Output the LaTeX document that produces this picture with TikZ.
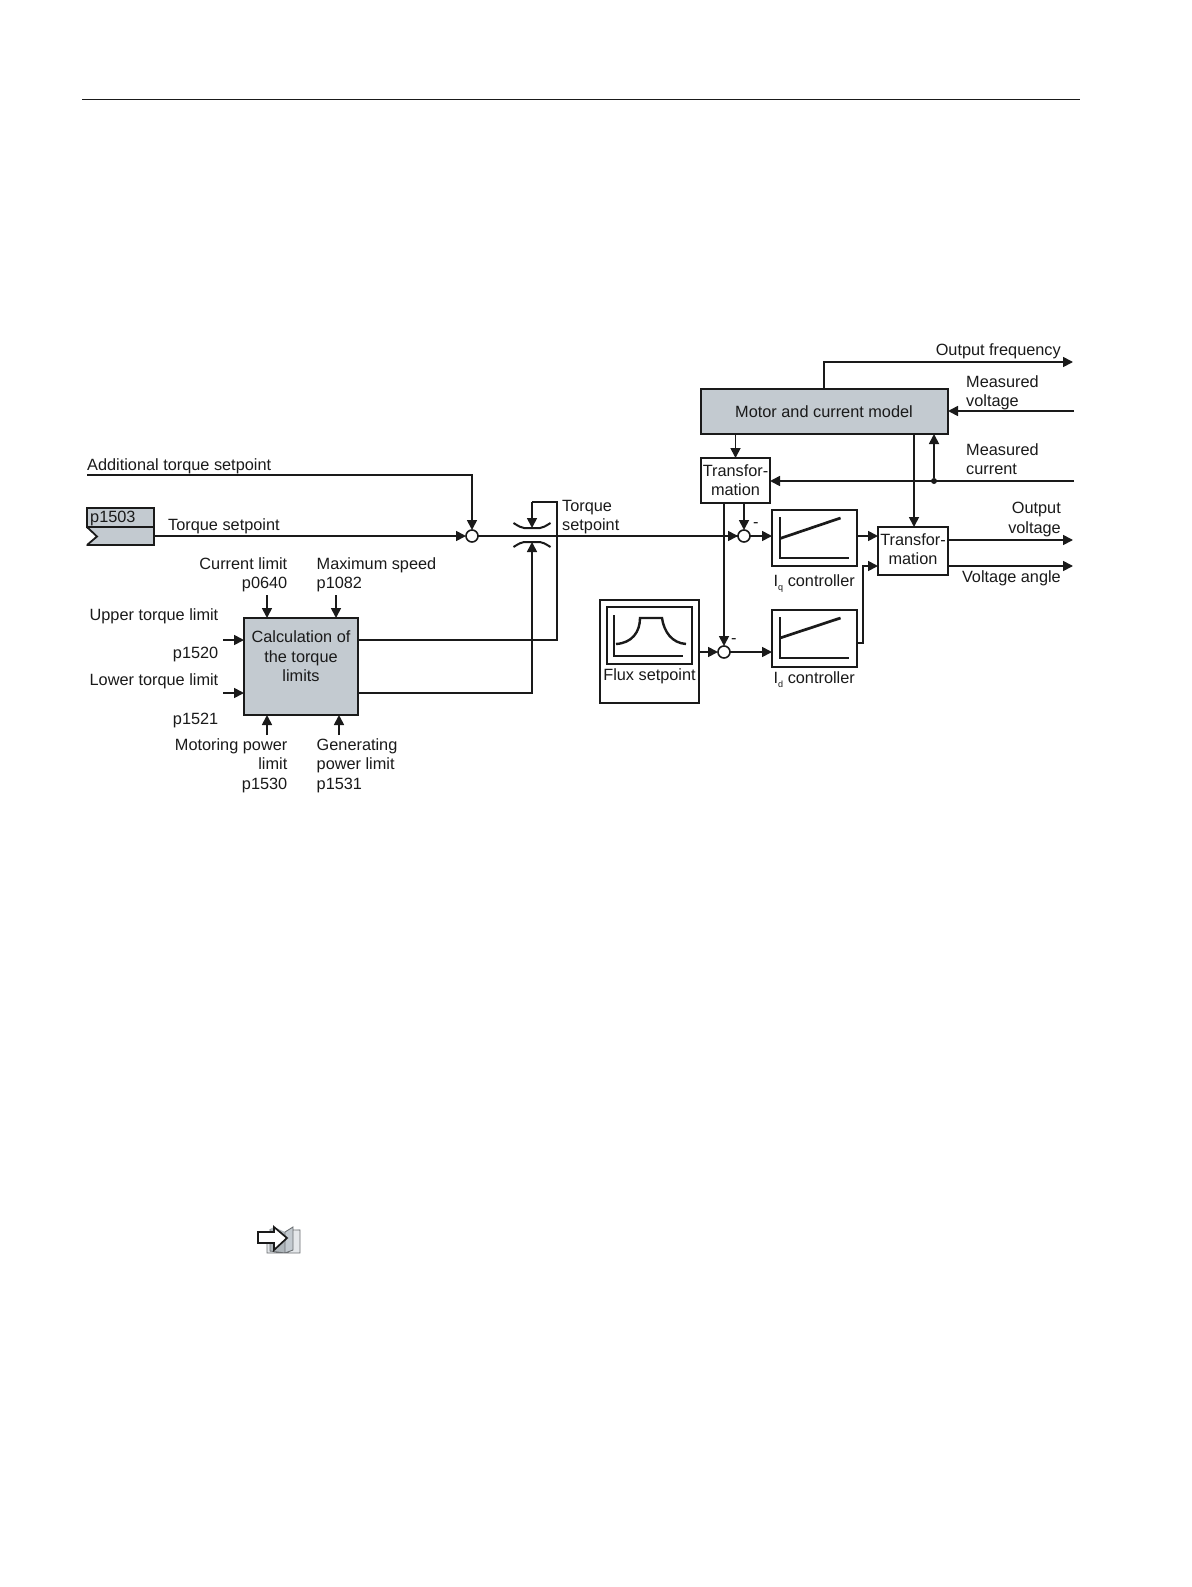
\documentclass[tikz,border=0pt]{standalone}
\usepackage{fontspec}
\setmainfont{Liberation Sans}
\usetikzlibrary{arrows.meta}
\definecolor{boxgray}{HTML}{C3CAD0}
\definecolor{ink}{HTML}{1A1A1A}
\tikzset{
  every picture/.style={x=1pt,y=-1pt},
  line/.style={draw=ink,line width=1.7pt},
  arr/.style={line,-{Triangle[length=10pt,width=10pt]}},
  block/.style={draw=ink,line width=1.8pt,inner sep=0pt,outer sep=0pt,fill=white},
  grayblock/.style={block,fill=boxgray},
  summer/.style={circle,draw=ink,line width=1.6pt,fill=white,minimum size=12pt,inner sep=0pt,outer sep=0pt},
  txt/.style={inner sep=0pt,text=ink,font=\fontsize{16.3}{19.5}\selectfont},
  tl/.style={txt,anchor=base west},
  tr/.style={txt,anchor=base east},
  tc/.style={txt,anchor=base},
  graphline/.style={draw=ink,line width=1.7pt},
  slope/.style={draw=ink,line width=2.7pt},
}
\begin{document}
\begin{tikzpicture}
\useasboundingbox[fill=white] (0,0) rectangle (1191,1587);
% header rule
\coordinate (ruleL) at (82,99.5);
\coordinate (ruleR) at (1080,99.5);
\draw[draw=ink,line width=1.2pt] (ruleL) -- (ruleR);

% main blocks
\node[grayblock,minimum width=114pt,minimum height=97pt,anchor=north west] (calc) at (244,618) {};
\node[grayblock,minimum width=247pt,minimum height=45pt,anchor=north west] (motor) at (701,389) {};
\node[block,minimum width=69pt,minimum height=45pt,anchor=north west] (tfa) at (701,458) {};
\node[block,minimum width=70pt,minimum height=48pt,anchor=north west] (tfb) at (878,527) {};
\node[block,minimum width=85pt,minimum height=56pt,anchor=north west] (iq) at (772,510) {};
\node[block,minimum width=85pt,minimum height=57pt,anchor=north west] (id) at (772,610) {};
\node[block,minimum width=99pt,minimum height=103pt,anchor=north west] (flux) at (600,600) {};
\node[block,minimum width=85pt,minimum height=57pt,anchor=north west] (fluxin) at (607,607) {};
\node[summer] (sa) at (472,536) {};
\node[summer] (sb) at (744,536) {};
\node[summer] (sc) at (724,652) {};

% p1503 block
\node[grayblock,minimum width=67pt,minimum height=37pt,anchor=north west] (pb) at (87,508) {};
\fill[white] (86,527.8) -- (97,536.5) -- (86,545.8) -- cycle;
\draw[draw=ink,line width=1.8pt] (87,527) -- (154,527);
\draw[draw=ink,line width=1.8pt] (87,527) -- (97,536.5) -- (87,545);

% block texts
\node[tl] (tp) at (90,522) {p1503};
\node[tc] (tcalc1) at (301,642) {Calculation of};
\node[tc] (tcalc2) at (301,662) {the torque};
\node[tc] (tcalc3) at (301,681) {limits};
\node[tc] (tmotor) at (824,417) {Motor and current model};
\node[tc] (tfa1) at (735.5,476) {Transfor-};
\node[tc] (tfa2) at (735.5,495) {mation};
\node[tc] (tfb1) at (913,545) {Transfor-};
\node[tc] (tfb2) at (913,564) {mation};
\node[tc] (tflux) at (649.5,680) {Flux setpoint};

% labels
\node[tl] (ladd) at (87,470) {Additional torque setpoint};
\node[tl] (lts) at (168,530) {Torque setpoint};
\node[tl] (lts1) at (562,511) {Torque};
\node[tl] (lts2) at (562,530) {setpoint};
\node[tr] (lcur1) at (287.5,569) {Current limit};
\node[tr] (lcur2) at (287.5,588) {p0640};
\node[tl] (lmax1) at (316.5,569) {Maximum speed};
\node[tl] (lmax2) at (316.5,588) {p1082};
\node[tr] (lup1) at (218.5,620) {Upper torque limit};
\node[tr] (lup2) at (218.5,658) {p1520};
\node[tr] (llo1) at (218.5,685) {Lower torque limit};
\node[tr] (llo2) at (218.5,724) {p1521};
\node[tr] (lmo1) at (287.5,750) {Motoring power};
\node[tr] (lmo2) at (287.5,769) {limit};
\node[tr] (lmo3) at (287.5,789) {p1530};
\node[tl] (lge1) at (316.5,750) {Generating};
\node[tl] (lge2) at (316.5,769) {power limit};
\node[tl] (lge3) at (316.5,789) {p1531};
\node[tr] (lof) at (1061,355) {Output frequency};
\node[tl] (lmv1) at (966,387) {Measured};
\node[tl] (lmv2) at (966,406) {voltage};
\node[tl] (lmc1) at (966,455) {Measured};
\node[tl] (lmc2) at (966,474) {current};
\node[tr] (lov1) at (1061,513.5) {Output};
\node[tr] (lov2) at (1061,533) {voltage};
\node[tr] (lva) at (1061,582) {Voltage angle};
\node[tl] (liq) at (773.5,586) {I{\fontsize{9}{9}\selectfont\raisebox{-4pt}{q}} controller};
\node[tl] (lid) at (773.5,683) {I{\fontsize{9}{9}\selectfont\raisebox{-4pt}{d}} controller};
\node[tl] (minusa) at (753,527) {-};
\node[tl] (minusb) at (731,643) {-};

% limiter symbol
\coordinate (limU) at (532,528);
\coordinate (limL) at (532,542);
\draw[draw=ink,line width=2pt] (513.5,523) .. controls (520,527) .. (524,528) -- (540,528) .. controls (544,527) .. (550.5,523);
\draw[draw=ink,line width=2pt] (513.5,547) .. controls (520,543) .. (524,542) -- (540,542) .. controls (544,543) .. (550.5,547);

% free ends
\coordinate (addS) at (87,475);
\coordinate (cTopL) at (267,595);
\coordinate (cTopR) at (336,595);
\coordinate (cLeftU) at (223,640);
\coordinate (cLeftL) at (223,693);
\coordinate (cBotL) at (267,735);
\coordinate (cBotR) at (339,735);
\coordinate (ofE) at (1073,362);
\coordinate (mvS) at (1074,411);
\coordinate (mcS) at (1074,481);
\coordinate (ovE) at (1073,540);
\coordinate (vaE) at (1073,566);
\node[circle,fill=ink,minimum size=6pt,inner sep=0pt] (jmc) at (934,481) {};

% connectors: torque path
\draw[arr] (addS) -| (sa.north);
\draw[arr] (pb.east |- sa.west) -- (sa.west);
\draw[line] (sa.east) -- (sb.west);
\draw[arr] (sa.east |- sb.west) -- (sb.west);
\draw[line] (calc.east |- 0,640) -- (557,640) -- (557,502) -- (532,502);
\draw[arr] (532,502) -- (limU);
\draw[arr] (calc.east |- 0,693) -| (limL);

% connectors: limits inputs
\draw[arr] (cTopL) -- (cTopL |- calc.north);
\draw[arr] (cTopR) -- (cTopR |- calc.north);
\draw[arr] (cLeftU) -- (cLeftU -| calc.west);
\draw[arr] (cLeftL) -- (cLeftL -| calc.west);
\draw[arr] (cBotL) -- (cBotL |- calc.south);
\draw[arr] (cBotR) -- (cBotR |- calc.south);

% connectors: motor model
\draw[arr] (motor.north -| 824,0) |- (ofE);
\draw[arr] (mvS) -- (motor.east |- mvS);
\draw[arr] (mcS) -- (tfa.east |- mcS);
\draw[arr] (jmc) -- (jmc |- motor.south);
\draw[arr] (tfa.north |- motor.south) -- (tfa.north);
\draw[arr] (914,434) -- (tfb.north -| 914,0);

% connectors: controllers
\draw[arr] (744,503) -- (sb.north);
\draw[arr] (724,503) -- (sc.north);
\draw[arr] (sb.east) -- (iq.west |- sb.east);
\draw[arr] (flux.east |- sc.west) -- (sc.west);
\draw[arr] (sc.east) -- (id.west |- sc.east);
\draw[arr] (iq.east |- 0,536) -- (tfb.west |- 0,536);
\draw[arr] (id.east |- 0,643) -- (863,643) -- (863,566) -- (tfb.west |- 0,566);
\draw[arr] (tfb.east |- ovE) -- (ovE);
\draw[arr] (tfb.east |- vaE) -- (vaE);

% characteristics
\draw[graphline] (780,517) -- (780,558) -- (849,558);
\draw[slope] (780,538.5) -- (840.5,518);
\draw[graphline] (780,617) -- (780,658) -- (849,658);
\draw[slope] (780,638) -- (840.5,618);
\draw[graphline] (614,615) -- (614,656) -- (683,656);
\draw[draw=ink,line width=2.4pt] (616,644) .. controls (632,643) and (640,632) .. (640,618) -- (662,618) .. controls (664,632) and (672,643) .. (686,644);

% reference icon
\fill[boxgray!45] (267,1253) -- (268,1231) -- (286,1233) -- (300,1229) -- (300,1253) -- (285,1253) -- cycle;
\fill[boxgray!90!black] (270,1229) -- (274,1227) -- (285,1232) -- (285,1253) -- (270,1251) -- cycle;
\fill[boxgray] (285,1232) -- (293,1227) -- (293,1250) -- (285,1253) -- cycle;
\draw[draw=boxgray!55!black,line width=.9pt] (270,1229) -- (270,1251) -- (285,1253) -- (293,1250) -- (293,1227) -- (285,1232) -- (285,1253) (293,1230) -- (300,1230) -- (300,1253) -- (267,1253) -- (267,1231);
\fill[white,draw=ink,line width=1.7pt] (258,1232) -- (274,1232) -- (274,1227) -- (287,1238) -- (274,1250) -- (274,1243) -- (258,1243) -- cycle;
\end{tikzpicture}
\end{document}
